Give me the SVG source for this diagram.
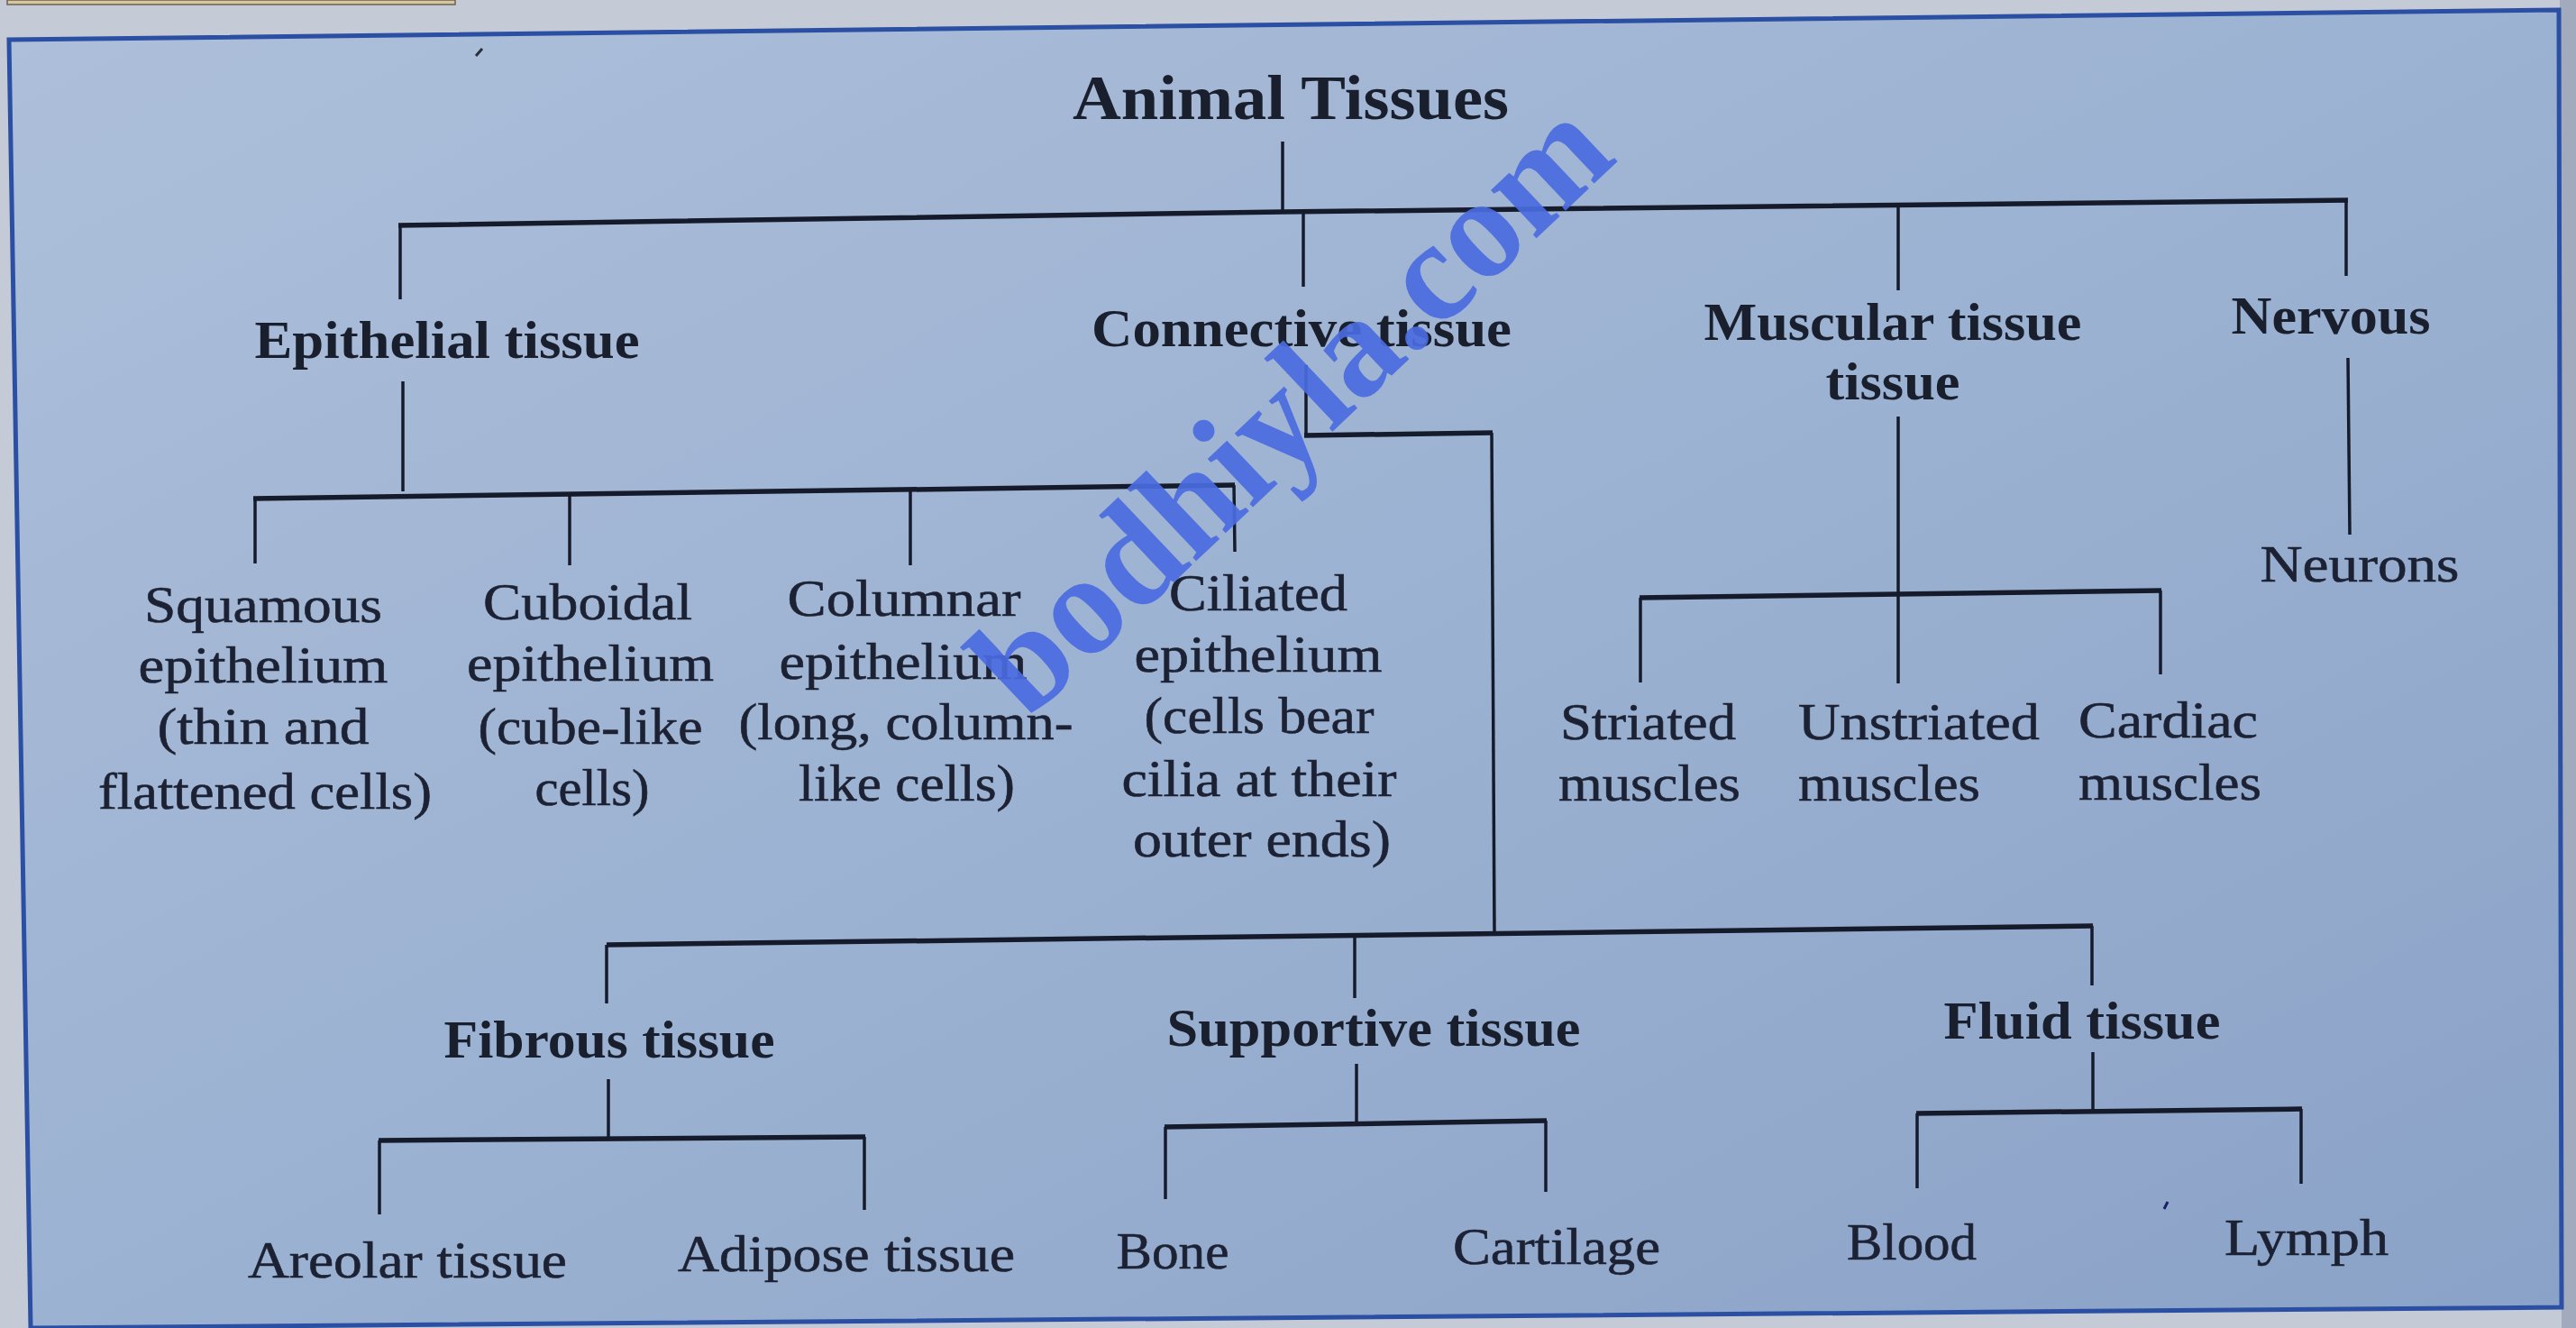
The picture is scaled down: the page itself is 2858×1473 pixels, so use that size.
<svg xmlns="http://www.w3.org/2000/svg" width="2858" height="1473" viewBox="0 0 2858 1473">
<defs>
<linearGradient id="bg" x1="0" y1="0" x2="1" y2="1">
<stop offset="0" stop-color="#adbfda"/>
<stop offset="0.5" stop-color="#9cb2d2"/>
<stop offset="1" stop-color="#8aa2c7"/>
</linearGradient>
<style>
.b{font-family:"Liberation Serif","Times New Roman",serif;font-weight:bold;font-size:60px;fill:#1a1f2e;text-anchor:middle}
.t{font-size:70px}
.r{font-family:"Liberation Serif","Times New Roman",serif;font-size:58px;fill:#1c2233;stroke:#1c2233;stroke-width:0.6;text-anchor:middle}
.l{text-anchor:start}
.h{stroke:#161b2c;stroke-width:5.5;fill:none}
.v{stroke:#161b2c;stroke-width:3.5;fill:none}
.wm{font-family:"Liberation Serif","Times New Roman",serif;font-weight:bold;font-size:160px;fill:#4a6be0;fill-opacity:0.92}
</style>
</defs>
<rect x="0" y="0" width="2858" height="1473" fill="#c4cad6"/>
<polygon points="2840,0 2858,0 2858,1473 2842,1473" fill="#a2aabe"/>
<rect x="8" y="0" width="497" height="5" fill="#d8c6a0" stroke="#6b6250" stroke-width="1.5"/>
<polygon points="10,44 2839,11 2842,1450 34,1473" fill="url(#bg)" stroke="#2b4fa3" stroke-width="5"/>
<path d="M528,62 L535,54" stroke="#2a2f3a" stroke-width="3"/>
<path d="M2401,1341 L2405,1333" stroke="#1a1f6a" stroke-width="3"/>

<g id="connectors">
<line class="v" x1="1423" y1="157" x2="1423" y2="235"/>
<polyline class="h" points="442,250 1423,235 2605,222"/>
<line class="v" x1="444" y1="250" x2="444" y2="332"/>
<line class="v" x1="1446" y1="235" x2="1446" y2="318"/>
<line class="v" x1="2106" y1="229" x2="2106" y2="322"/>
<line class="v" x1="2603" y1="222" x2="2603" y2="306"/>

<line class="v" x1="447" y1="423" x2="447" y2="545"/>
<line class="h" x1="281" y1="553" x2="1370" y2="538"/>
<line class="v" x1="283" y1="553" x2="283" y2="625"/>
<line class="v" x1="632" y1="548" x2="632" y2="627"/>
<line class="v" x1="1010" y1="544" x2="1010" y2="627"/>
<line class="v" x1="1369" y1="538" x2="1370" y2="612"/>

<line class="v" x1="1449" y1="405" x2="1449" y2="483"/>
<line class="h" x1="1447" y1="483" x2="1656" y2="480"/>
<line class="v" x1="1655" y1="480" x2="1658" y2="1034"/>
<line class="h" x1="673" y1="1048" x2="2322" y2="1027"/>
<line class="v" x1="673" y1="1048" x2="673" y2="1113"/>
<line class="v" x1="1503" y1="1038" x2="1503" y2="1107"/>
<line class="v" x1="2321" y1="1027" x2="2321" y2="1093"/>

<line class="v" x1="675" y1="1197" x2="675" y2="1263"/>
<line class="h" x1="420" y1="1265" x2="960" y2="1261"/>
<line class="v" x1="421" y1="1265" x2="421" y2="1347"/>
<line class="v" x1="959" y1="1261" x2="959" y2="1342"/>

<line class="v" x1="1505" y1="1180" x2="1505" y2="1246"/>
<line class="h" x1="1292" y1="1250" x2="1716" y2="1243"/>
<line class="v" x1="1293" y1="1250" x2="1293" y2="1330"/>
<line class="v" x1="1715" y1="1243" x2="1715" y2="1322"/>

<line class="v" x1="2322" y1="1167" x2="2322" y2="1232"/>
<line class="h" x1="2126" y1="1235" x2="2554" y2="1230"/>
<line class="v" x1="2127" y1="1235" x2="2127" y2="1318"/>
<line class="v" x1="2553" y1="1230" x2="2553" y2="1313"/>

<line class="v" x1="2106" y1="462" x2="2106" y2="758"/>
<line class="h" x1="1819" y1="663" x2="2398" y2="655"/>
<line class="v" x1="1820" y1="663" x2="1820" y2="757"/>
<line class="v" x1="2397" y1="655" x2="2397" y2="748"/>

<line class="v" x1="2605" y1="397" x2="2607" y2="593"/>
</g>

<g id="animal-tissues"><text class="b t" x="1432" y="132" textLength="484" lengthAdjust="spacingAndGlyphs">Animal Tissues</text></g>
<g id="epithelial"><text class="b" x="496" y="397" textLength="427" lengthAdjust="spacingAndGlyphs">Epithelial tissue</text></g>
<g id="connective"><text class="b" x="1444" y="384" textLength="466" lengthAdjust="spacingAndGlyphs">Connective tissue</text></g>
<g id="muscular"><text class="b" x="2100" y="377" textLength="419" lengthAdjust="spacingAndGlyphs">Muscular tissue</text><text class="b" x="2100" y="443" textLength="149" lengthAdjust="spacingAndGlyphs">tissue</text></g>
<g id="nervous"><text class="b" x="2586" y="370" textLength="221" lengthAdjust="spacingAndGlyphs">Nervous</text></g>

<g id="squamous">
<text class="r" x="292" y="690" textLength="264" lengthAdjust="spacingAndGlyphs">Squamous</text>
<text class="r" x="292" y="757" textLength="277" lengthAdjust="spacingAndGlyphs">epithelium</text>
<text class="r" x="292" y="825" textLength="235" lengthAdjust="spacingAndGlyphs">(thin and</text>
<text class="r" x="294" y="897" textLength="370" lengthAdjust="spacingAndGlyphs">flattened cells)</text>
</g>
<g id="cuboidal">
<text class="r" x="652" y="687" textLength="232" lengthAdjust="spacingAndGlyphs">Cuboidal</text>
<text class="r" x="655" y="755" textLength="274" lengthAdjust="spacingAndGlyphs">epithelium</text>
<text class="r" x="655" y="825" textLength="249" lengthAdjust="spacingAndGlyphs">(cube-like</text>
<text class="r" x="657" y="893" textLength="127" lengthAdjust="spacingAndGlyphs">cells)</text>
</g>
<g id="columnar">
<text class="r" x="1003" y="683" textLength="259" lengthAdjust="spacingAndGlyphs">Columnar</text>
<text class="r" x="1002" y="753" textLength="275" lengthAdjust="spacingAndGlyphs">epithelium</text>
<text class="r" x="1005" y="820" textLength="371" lengthAdjust="spacingAndGlyphs">(long, column-</text>
<text class="r" x="1006" y="888" textLength="240" lengthAdjust="spacingAndGlyphs">like cells)</text>
</g>
<g id="ciliated">
<text class="r" x="1396" y="677" textLength="198" lengthAdjust="spacingAndGlyphs">Ciliated</text>
<text class="r" x="1396" y="745" textLength="275" lengthAdjust="spacingAndGlyphs">epithelium</text>
<text class="r" x="1397" y="813" textLength="255" lengthAdjust="spacingAndGlyphs">(cells bear</text>
<text class="r" x="1397" y="883" textLength="305" lengthAdjust="spacingAndGlyphs">cilia at their</text>
<text class="r" x="1400" y="950" textLength="286" lengthAdjust="spacingAndGlyphs">outer ends)</text>
</g>

<g id="striated"><text class="r l" x="1731" y="820" textLength="195" lengthAdjust="spacingAndGlyphs">Striated</text><text class="r l" x="1729" y="888" textLength="202" lengthAdjust="spacingAndGlyphs">muscles</text></g>
<g id="unstriated"><text class="r l" x="1995" y="820" textLength="268" lengthAdjust="spacingAndGlyphs">Unstriated</text><text class="r l" x="1995" y="888" textLength="202" lengthAdjust="spacingAndGlyphs">muscles</text></g>
<g id="cardiac"><text class="r l" x="2306" y="818" textLength="199" lengthAdjust="spacingAndGlyphs">Cardiac</text><text class="r l" x="2306" y="887" textLength="203" lengthAdjust="spacingAndGlyphs">muscles</text></g>
<g id="neurons"><text class="r" x="2618" y="645" textLength="221" lengthAdjust="spacingAndGlyphs">Neurons</text></g>

<g id="fibrous"><text class="b" x="676" y="1173" textLength="367" lengthAdjust="spacingAndGlyphs">Fibrous tissue</text></g>
<g id="supportive"><text class="b" x="1524" y="1160" textLength="459" lengthAdjust="spacingAndGlyphs">Supportive tissue</text></g>
<g id="fluid"><text class="b" x="2310" y="1152" textLength="307" lengthAdjust="spacingAndGlyphs">Fluid tissue</text></g>

<g id="areolar"><text class="r" x="452" y="1417" textLength="354" lengthAdjust="spacingAndGlyphs">Areolar tissue</text></g>
<g id="adipose"><text class="r" x="939" y="1410" textLength="374" lengthAdjust="spacingAndGlyphs">Adipose tissue</text></g>
<g id="bone"><text class="r" x="1301" y="1407" textLength="125" lengthAdjust="spacingAndGlyphs">Bone</text></g>
<g id="cartilage"><text class="r" x="1727" y="1402" textLength="230" lengthAdjust="spacingAndGlyphs">Cartilage</text></g>
<g id="blood"><text class="r" x="2121" y="1397" textLength="144" lengthAdjust="spacingAndGlyphs">Blood</text></g>
<g id="lymph"><text class="r" x="2559" y="1392" textLength="182" lengthAdjust="spacingAndGlyphs">Lymph</text></g>

<text class="wm" x="1140" y="800" transform="rotate(-43.5 1140 800)" textLength="905" lengthAdjust="spacingAndGlyphs">bodhiyla.com</text>
</svg>
